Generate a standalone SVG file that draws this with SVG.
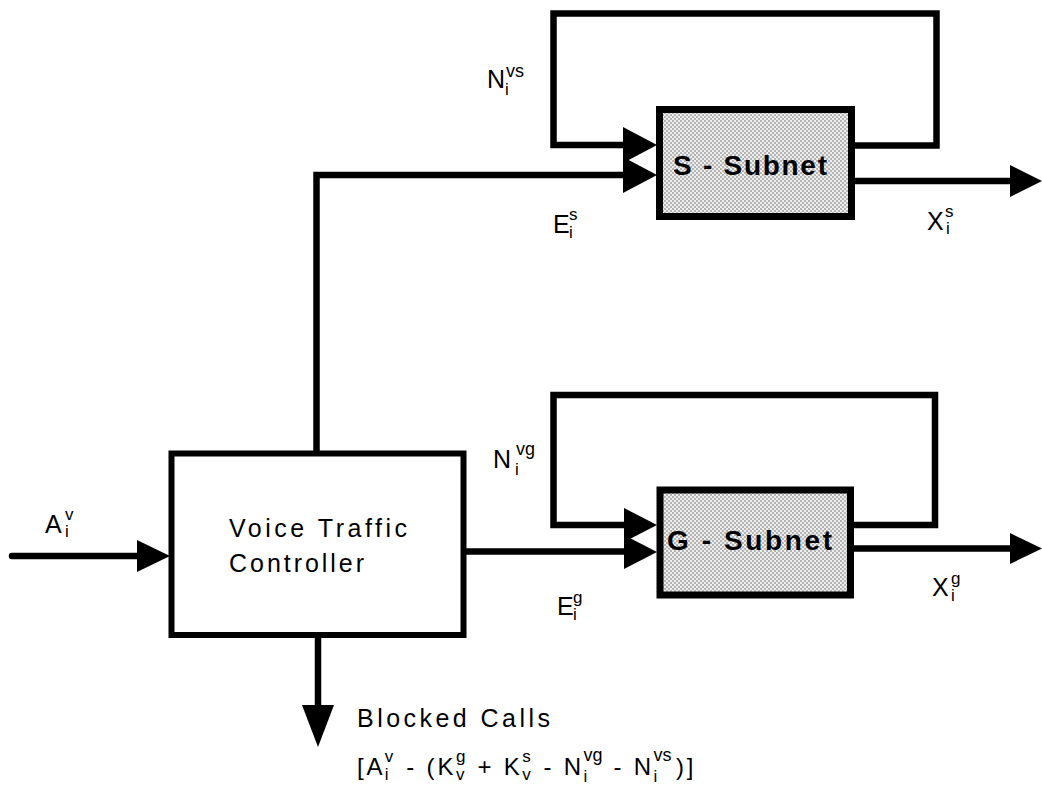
<svg xmlns="http://www.w3.org/2000/svg" width="1042" height="790" viewBox="0 0 1042 790">
<defs>
<style>
.ln{fill:none;stroke:#000;stroke-width:6.5;stroke-linejoin:miter}
.ah{fill:#000;stroke:none}
.box{stroke:#000;stroke-width:7}
.vtc{fill:#fff;stroke:#000;stroke-width:6}
text{font-family:"Liberation Sans",Arial,Helvetica,sans-serif;fill:#000}
.lbl{font-size:25px}
.sm{font-size:17px}
.sup2{font-size:18px}
.bx{font-size:28px;font-weight:bold}
.tx{font-size:25px}
.fm{font-size:24px}
</style>
<pattern id="stip" width="4" height="4" patternUnits="userSpaceOnUse">
<rect width="4" height="4" fill="#eeeeee"/>
<rect width="2" height="2" fill="#b4b4b4"/>
<rect x="2" y="2" width="2" height="2" fill="#b4b4b4"/>
</pattern>
</defs>
<rect width="1042" height="790" fill="#fff"/>

<g id="connectors">
  <path class="ln" d="M852,145.5 H936.5 V13.5 H553.5 V145 H630"/>
  <polygon class="ah" points="623,127 657,145 623,163"/>
  <path class="ln" d="M316.5,453 V175 H630"/>
  <polygon class="ah" points="623,157 657,175 623,193"/>
  <path class="ln" d="M852,181 H1015"/>
  <polygon class="ah" points="1010,165 1042,181 1010,197"/>
  <path class="ln" d="M850,525 H935 V395 H553.5 V525 H630"/>
  <polygon class="ah" points="624,508 657,525 624,542"/>
  <path class="ln" d="M463,551.5 H630"/>
  <polygon class="ah" points="624,535 657,552 624,569"/>
  <path class="ln" d="M850,548.5 H1015"/>
  <polygon class="ah" points="1010,533 1042,548.5 1010,564"/>
  <path class="ln" d="M12,556 H145" stroke-linecap="round"/>
  <polygon class="ah" points="137,540 170,556 137,572"/>
  <path class="ln" d="M318,635 V710"/>
  <polygon class="ah" points="302,705 334,705 318,747"/>
</g>

<g id="vtc">
  <rect class="vtc" x="171.5" y="453.5" width="292" height="181.5"/>
  <text class="tx" x="229" y="537" textLength="178" lengthAdjust="spacing">Voice Traffic</text>
  <text class="tx" x="229" y="572" textLength="135" lengthAdjust="spacing">Controller</text>
</g>

<g id="s-subnet">
  <rect class="box" x="659.5" y="109.5" width="192" height="107" fill="url(#stip)"/>
  <text class="bx" x="673" y="175" textLength="154" lengthAdjust="spacing">S - Subnet</text>
</g>

<g id="g-subnet">
  <rect class="box" x="660" y="490" width="190.5" height="105" fill="url(#stip)"/>
  <text class="bx" x="667" y="550" textLength="165" lengthAdjust="spacing">G - Subnet</text>
</g>

<g id="labels">
  <text class="lbl" x="45" y="533">A</text>
  <text class="sm" x="65" y="520">v</text>
  <text class="sm" x="65" y="537">i</text>
  <text class="lbl" x="487" y="88">N</text>
  <text class="sup2" x="506" y="77">vs</text>
  <text class="sm" x="505" y="95">i</text>
  <text class="lbl" x="553" y="233">E</text>
  <text class="sm" x="569" y="220">s</text>
  <text class="sm" x="569" y="238">i</text>
  <text class="lbl" x="927" y="230">X</text>
  <text class="sm" x="945" y="217">s</text>
  <text class="sm" x="946" y="234">i</text>
  <text class="lbl" x="493" y="468">N</text>
  <text class="sup2" x="516" y="455">vg</text>
  <text class="sm" x="515" y="475">i</text>
  <text class="lbl" x="557" y="615">E</text>
  <text class="sm" x="573" y="603">g</text>
  <text class="sm" x="573" y="620">i</text>
  <text class="lbl" x="932" y="596">X</text>
  <text class="sm" x="951" y="584">g</text>
  <text class="sm" x="951" y="601">i</text>
</g>

<g id="blocked">
  <text class="tx" x="357" y="727" textLength="193" lengthAdjust="spacing">Blocked Calls</text>
  <text class="fm" x="357" y="775">[</text>
  <text class="fm" x="366.5" y="775">A</text>
  <text class="sm" x="384.8" y="762">v</text>
  <text class="sm" x="384.8" y="780">i</text>
  <text class="fm" x="406.3" y="775">-</text>
  <text class="fm" x="426.6" y="775">(</text>
  <text class="fm" x="437.4" y="775">K</text>
  <text class="sm" x="455.9" y="762">g</text>
  <text class="sm" x="455.9" y="780">v</text>
  <text class="fm" x="477.6" y="775">+</text>
  <text class="fm" x="503.7" y="775">K</text>
  <text class="sm" x="522.2" y="762">s</text>
  <text class="sm" x="522.2" y="780">v</text>
  <text class="fm" x="543.4" y="775">-</text>
  <text class="fm" x="563.7" y="775">N</text>
  <text class="sup2" x="583.5" y="761">vg</text>
  <text class="sm" x="583.5" y="782">i</text>
  <text class="fm" x="613.5" y="775">-</text>
  <text class="fm" x="633.7" y="775">N</text>
  <text class="sup2" x="653.5" y="761">vs</text>
  <text class="sm" x="653.5" y="782">i</text>
  <text class="fm" x="675.9" y="775">)</text>
  <text class="fm" x="686.7" y="775">]</text>
</g>
</svg>
